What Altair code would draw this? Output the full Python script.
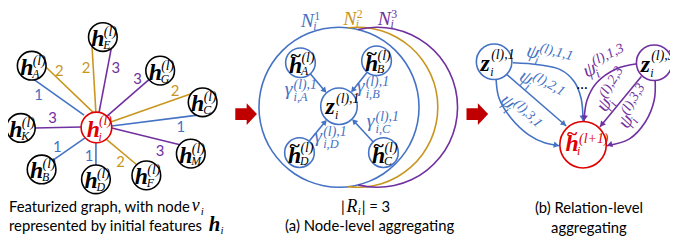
import math
import altair as alt
import pandas as pd

BLUE = "#4472C4"
GOLD = "#C8961E"
PURPLE = "#7030A0"
RED = "#E00000"
DARK_RED = "#C00000"
BLACK = "#000000"
REL_COLOR = {1: BLUE, 2: GOLD, 3: PURPLE}
SERIF = "Liberation Serif"
SANS = "Lato"

# ---------------- (left) featurized graph ----------------
hub_x, hub_y = 97.5, 127.5
nb_names = ["A", "E", "G", "C", "K", "B", "D", "F", "M"]
nb_x = [32, 104, 162, 205, 21, 42, 97, 148, 193]
nb_y = [65, 36, 70, 102, 128, 170, 180, 176, 154]

edge_rel = [1, 2, 2, 3, 3, 2, 1, 3, 1, 1, 2, 3]
edge_x1 = [33, 45, 93, 113, 153, 197, 200, 35, 50, 97, 138, 182]
edge_y1 = [78, 65, 45, 45, 77, 92, 115, 128, 163, 170, 165, 145]
edge_x2 = [85, 95, 97, 100, 107, 112, 113, 83, 86, 97, 107, 113]
edge_y2 = [115, 113, 113, 113, 117, 122, 126, 127, 138, 143, 139, 128]
edge_lx = [39, 60, 87, 117, 139, 177, 183, 53, 58, 90, 122, 162]
edge_ly = [95, 70, 67, 67, 79, 91, 127, 118, 147, 156, 163, 151]

# ---------------- (a) node-level aggregating ----------------
set_rel = [1, 2, 3]
set_cx = [343, 362, 382]
set_cy = [107, 107, 107]
set_r = [81, 81, 81]
set_start = [0, -7, -14]
set_end = [360, 187, 194]
setlab_x = [311, 354, 389]
setlab_y = [26, 24, 24]

mid_names = ["A", "B", "D", "C"]
mid_x = [304, 381, 303, 388]
mid_y = [62, 60, 153, 153]
zmid_x, zmid_y = 343, 106
gamma_x = [292, 365, 322, 375]
gamma_y = [92, 89, 139, 124]

# ---------------- (b) relation-level aggregating ----------------
z_rel = [1, 3]
z_sup = ["(l),1", "(l),3"]
z_x = [500, 662]
z_y = [61, 62]
hn_x, hn_y = 590, 145

curve_rel = [1, 1, 1, 3, 3, 3]
curve_x = [
    [519, 545, 567, 581, 588, 590],
    [513, 573],
    [502, 505, 517, 535, 551, 566],
    [645, 624, 604, 594, 591],
    [649, 607],
    [663, 662, 653, 637, 614],
]
curve_y = [
    [62, 64, 69, 81, 98, 121],
    [74, 126],
    [79, 98, 118, 135, 143, 146],
    [63, 68, 82, 100, 121],
    [76, 127],
    [80, 100, 122, 139, 146],
]
psi_sup = ["(l),1,1", "(l),2,1", "(l),3,1", "(l),1,3", "(l),2,3", "(l),3,3"]
psi_rel = [1, 1, 1, 3, 3, 3]
psi_x = [539, 532, 513, 597, 612, 634]
psi_y = [52, 78, 102, 70, 105, 122]
psi_angle = [15, 30, 45, -25, -58, -58]

# ---------------- scales ----------------
XS = alt.Scale(domain=[8, 678], nice=False, zero=False)
YS = alt.Scale(domain=[8, 240], nice=False, zero=False, reverse=True)


def X(f="x"):
    return alt.X(f + ":Q", scale=XS, axis=None)


def Y(f="y"):
    return alt.Y(f + ":Q", scale=YS, axis=None)


def rot(ax, ay, dx, dy, deg):
    a = math.radians(deg)
    return ax + dx * math.cos(a) - dy * math.sin(a), ay + dx * math.sin(a) + dy * math.cos(a)


layers = []

# big relation sets (rings)
arc_rows = []
for i in range(3):
    arc_rows.append(dict(x=set_cx[i], y=set_cy[i], ro=set_r[i] + 0.8, ri=set_r[i] - 0.8,
                         t0=math.radians(set_start[i]), t1=math.radians(set_end[i]),
                         c=REL_COLOR[set_rel[i]]))
layers.append(alt.Chart(pd.DataFrame(arc_rows)).mark_arc().encode(
    x=X(), y=Y(),
    theta=alt.Theta("t0:Q", scale=None, stack=None), theta2="t1:Q",
    radius=alt.Radius("ro:Q", scale=None), radius2="ri:Q",
    color=alt.Color("c:N", scale=None)))

# straight edges (left graph + middle arrows)
seg_rows = []
head_rows = []
for i in range(len(edge_rel)):
    seg_rows.append(dict(x=edge_x1[i], y=edge_y1[i], x2=edge_x2[i], y2=edge_y2[i],
                         c=REL_COLOR[edge_rel[i]]))


def add_head(tx, ty, dx, dy, color, h=3.0):
    n = math.hypot(dx, dy)
    ux, uy = dx / n, dy / n
    ang = math.degrees(math.atan2(ux, -uy)) % 360
    head_rows.append(dict(x=tx - ux * h, y=ty - uy * h, a=ang, c=color))


for i in range(4):
    dx, dy = zmid_x - mid_x[i], zmid_y - mid_y[i]
    n = math.hypot(dx, dy)
    ux, uy = dx / n, dy / n
    sx, sy = mid_x[i] + ux * 15, mid_y[i] + uy * 15
    ex, ey = zmid_x - ux * 19, zmid_y - uy * 18
    seg_rows.append(dict(x=sx, y=sy, x2=ex - ux * 2, y2=ey - uy * 2, c=BLUE))
    add_head(ex, ey, dx, dy, BLUE)

layers.append(alt.Chart(pd.DataFrame(seg_rows)).mark_rule(strokeWidth=1.6).encode(
    x=X(), y=Y(), x2="x2:Q", y2="y2:Q", color=alt.Color("c:N", scale=None)))

# curved arrows of the relation-level panel
curve_rows = []
for k in range(len(curve_x)):
    for j in range(len(curve_x[k])):
        curve_rows.append(dict(id=k, o=j, x=curve_x[k][j], y=curve_y[k][j],
                               c=REL_COLOR[curve_rel[k]]))
    add_head(curve_x[k][-1], curve_y[k][-1],
             curve_x[k][-1] - curve_x[k][-2], curve_y[k][-1] - curve_y[k][-2],
             REL_COLOR[curve_rel[k]])
layers.append(alt.Chart(pd.DataFrame(curve_rows)).mark_line(
    strokeWidth=1.6, interpolate="catmull-rom").encode(
    x=X(), y=Y(), detail="id:N", order="o:Q", color=alt.Color("c:N", scale=None)))

# node circles
circ_rows = []
for i in range(len(nb_names)):
    circ_rows.append(dict(x=nb_x[i], y=nb_y[i], s=29 ** 2, c=BLACK))
circ_rows.append(dict(x=hub_x, y=hub_y, s=31 ** 2, c=RED))
for i in range(4):
    circ_rows.append(dict(x=mid_x[i], y=mid_y[i], s=30 ** 2, c=BLUE))
circ_rows.append(dict(x=zmid_x, y=zmid_y, s=37 ** 2, c=BLUE))
for i in range(2):
    circ_rows.append(dict(x=z_x[i], y=z_y[i], s=36 ** 2, c=REL_COLOR[z_rel[i]]))
circ_rows.append(dict(x=hn_x, y=hn_y, s=47 ** 2, c=RED))
layers.append(alt.Chart(pd.DataFrame(circ_rows)).mark_point(
    shape="circle", filled=True, fill="white", opacity=1, strokeWidth=1.6).encode(
    x=X(), y=Y(), size=alt.Size("s:Q", scale=None), stroke=alt.Stroke("c:N", scale=None)))

# arrow heads
layers.append(alt.Chart(pd.DataFrame(head_rows)).mark_point(
    shape="triangle-up", filled=True, opacity=1, size=40).encode(
    x=X(), y=Y(), angle=alt.Angle("a:Q", scale=None), color=alt.Color("c:N", scale=None)))

# block arrows between panels
arrow_x = [249, 483]
arrow_y = [114, 114]
layers.append(alt.Chart(pd.DataFrame({"x": arrow_x, "y": arrow_y})).mark_point(
    shape="M-1,-0.55L0.05,-0.55L0.05,-1L1,0L0.05,1L0.05,0.55L-1,0.55Z",
    filled=True, opacity=1, size=480, color=DARK_RED, strokeWidth=0).encode(x=X(), y=Y()))

# ---------------- texts ----------------
T = {k: [] for k in ["main", "sup", "sub", "tilde", "greek", "gsup", "gsub",
                     "nsup", "nsub", "num", "body", "bodyc", "mi", "csub", "cmain"]}


def put(key, x, y, t, c, a=0):
    T[key].append(dict(x=x, y=y, t=t, c=c, a=a % 360))


for i, nm in enumerate(nb_names):
    cx, cy = nb_x[i], nb_y[i]
    put("main", cx - 5, cy + 9, "h", BLACK)
    put("sup", cx + 1, cy - 1, "(l)", BLACK)
    put("sub", cx + 0.5, cy + 12, nm, BLACK)
put("main", hub_x - 3, hub_y + 10, "h", RED)
put("sup", hub_x + 2.5, hub_y - 2, "(l)", RED)
put("sub", hub_x + 2, hub_y + 14, "i", RED)

for i in range(len(edge_rel)):
    put("num", edge_lx[i], edge_ly[i], str(edge_rel[i]), REL_COLOR[edge_rel[i]])

for i, nm in enumerate(mid_names):
    cx, cy = mid_x[i], mid_y[i]
    put("main", cx - 5, cy + 10, "h", BLACK)
    put("tilde", cx - 5, cy - 7, "~", BLACK)
    put("sup", cx + 1, cy - 1, "(l)", BLACK)
    put("sub", cx + 0.5, cy + 12, nm, BLACK)
put("main", zmid_x - 9, zmid_y + 8, "z", BLACK)
put("sup", zmid_x - 3, zmid_y - 3, "(l),1", BLACK)
put("sub", zmid_x - 4, zmid_y + 13, "i", BLACK)

for i, nm in enumerate(mid_names):
    gx, gy = gamma_x[i], gamma_y[i]
    put("greek", gx, gy + 3, "γ", BLUE)
    put("gsup", gx + 5, gy - 3, "(l),1", BLUE)
    put("gsub", gx + 5, gy + 9, "i," + nm, BLUE)

for i in range(3):
    c = REL_COLOR[set_rel[i]]
    sx, sy = setlab_x[i], setlab_y[i]
    put("greek", sx, sy, "N", c)
    put("nsup", sx + 7, sy - 7, str(set_rel[i]), c)
    put("nsub", sx + 6, sy + 3, "i", c)

for i in range(2):
    cx, cy = z_x[i], z_y[i]
    put("main", cx - 9, cy + 9, "z", BLACK)
    put("sup", cx - 3, cy - 3, z_sup[i], BLACK)
    put("sub", cx - 4, cy + 14, "i", BLACK)
put("main", hn_x - 11, hn_y + 6, "h", RED)
put("tilde", hn_x - 11, hn_y - 11, "~", RED)
put("sup", hn_x - 4, hn_y - 2, "(l+1)", RED)
put("sub", hn_x - 6, hn_y + 10, "i", RED)

for i in range(len(psi_sup)):
    c = REL_COLOR[psi_rel[i]]
    ax, ay, ang = psi_x[i], psi_y[i], psi_angle[i]
    mx, my = rot(ax, ay, 0, 5, ang)
    put("greek", mx, my, "ψ", c, ang)
    sx, sy = rot(ax, ay, 6, -3, ang)
    put("gsup", sx, sy, psi_sup[i], c, ang)
    bx, by = rot(ax, ay, 4, 10, ang)
    put("gsub", bx, by, "i", c, ang)

put("num", 589, 84, "…", BLACK)

# captions
put("body", 9, 208, "Featurized graph, with node", BLACK)
put("mi", 198, 212, "v", BLACK)
put("csub", 203, 216, "i", BLACK)
put("body", 9, 227, "represented by initial features", BLACK)
put("cmain", 217, 232, "h", BLACK)
put("csub", 223, 235, "i", BLACK)

put("body", 345, 208, "|", BLACK)
put("mi", 356, 213, "R", BLACK)
put("csub", 362, 216, "i", BLACK)
put("body", 366, 208, "| = 3", BLACK)
put("bodyc", 374, 227, "(a) Node-level aggregating", BLACK)
put("bodyc", 596, 209, "(b) Relation-level", BLACK)
put("bodyc", 596, 229, "aggregating", BLACK)

text_styles = {
    "main": dict(font=SERIF, fontSize=24, fontWeight="bold", fontStyle="italic", align="center", baseline="alphabetic"),
    "cmain": dict(font=SERIF, fontSize=21, fontWeight="bold", fontStyle="italic", align="center", baseline="alphabetic"),
    "sup": dict(font=SERIF, fontSize=14, fontStyle="italic", align="left", baseline="alphabetic"),
    "sub": dict(font=SERIF, fontSize=12, fontStyle="italic", align="left", baseline="alphabetic"),
    "tilde": dict(font=SERIF, fontSize=20, fontWeight="bold", align="center", baseline="middle"),
    "greek": dict(font=SERIF, fontSize=20, fontStyle="italic", align="center", baseline="alphabetic"),
    "gsup": dict(font=SERIF, fontSize=14, fontStyle="italic", align="left", baseline="alphabetic"),
    "gsub": dict(font=SERIF, fontSize=12.5, fontStyle="italic", align="left", baseline="alphabetic"),
    "nsup": dict(font=SERIF, fontSize=12, align="left", baseline="alphabetic"),
    "nsub": dict(font=SERIF, fontSize=12, fontStyle="italic", align="left", baseline="alphabetic"),
    "num": dict(font=SANS, fontSize=15, align="center", baseline="middle"),
    "body": dict(font=SANS, fontSize=15, align="left", baseline="middle"),
    "bodyc": dict(font=SANS, fontSize=15, align="center", baseline="middle"),
    "mi": dict(font=SERIF, fontSize=18, fontStyle="italic", align="center", baseline="alphabetic"),
    "csub": dict(font=SERIF, fontSize=11, fontStyle="italic", align="left", baseline="alphabetic"),
}
for key, st in text_styles.items():
    if not T[key]:
        continue
    layers.append(alt.Chart(pd.DataFrame(T[key])).mark_text(**st).encode(
        x=X(), y=Y(), text="t:N", color=alt.Color("c:N", scale=None),
        angle=alt.Angle("a:Q", scale=None)))

chart = alt.layer(*layers).properties(
    width=670, height=232, padding=0, background="white",
    autosize=alt.AutoSizeParams(type="none"),
).configure_view(strokeWidth=0)

chart.save("out.html", embed_options={"renderer": "svg", "actions": False})
